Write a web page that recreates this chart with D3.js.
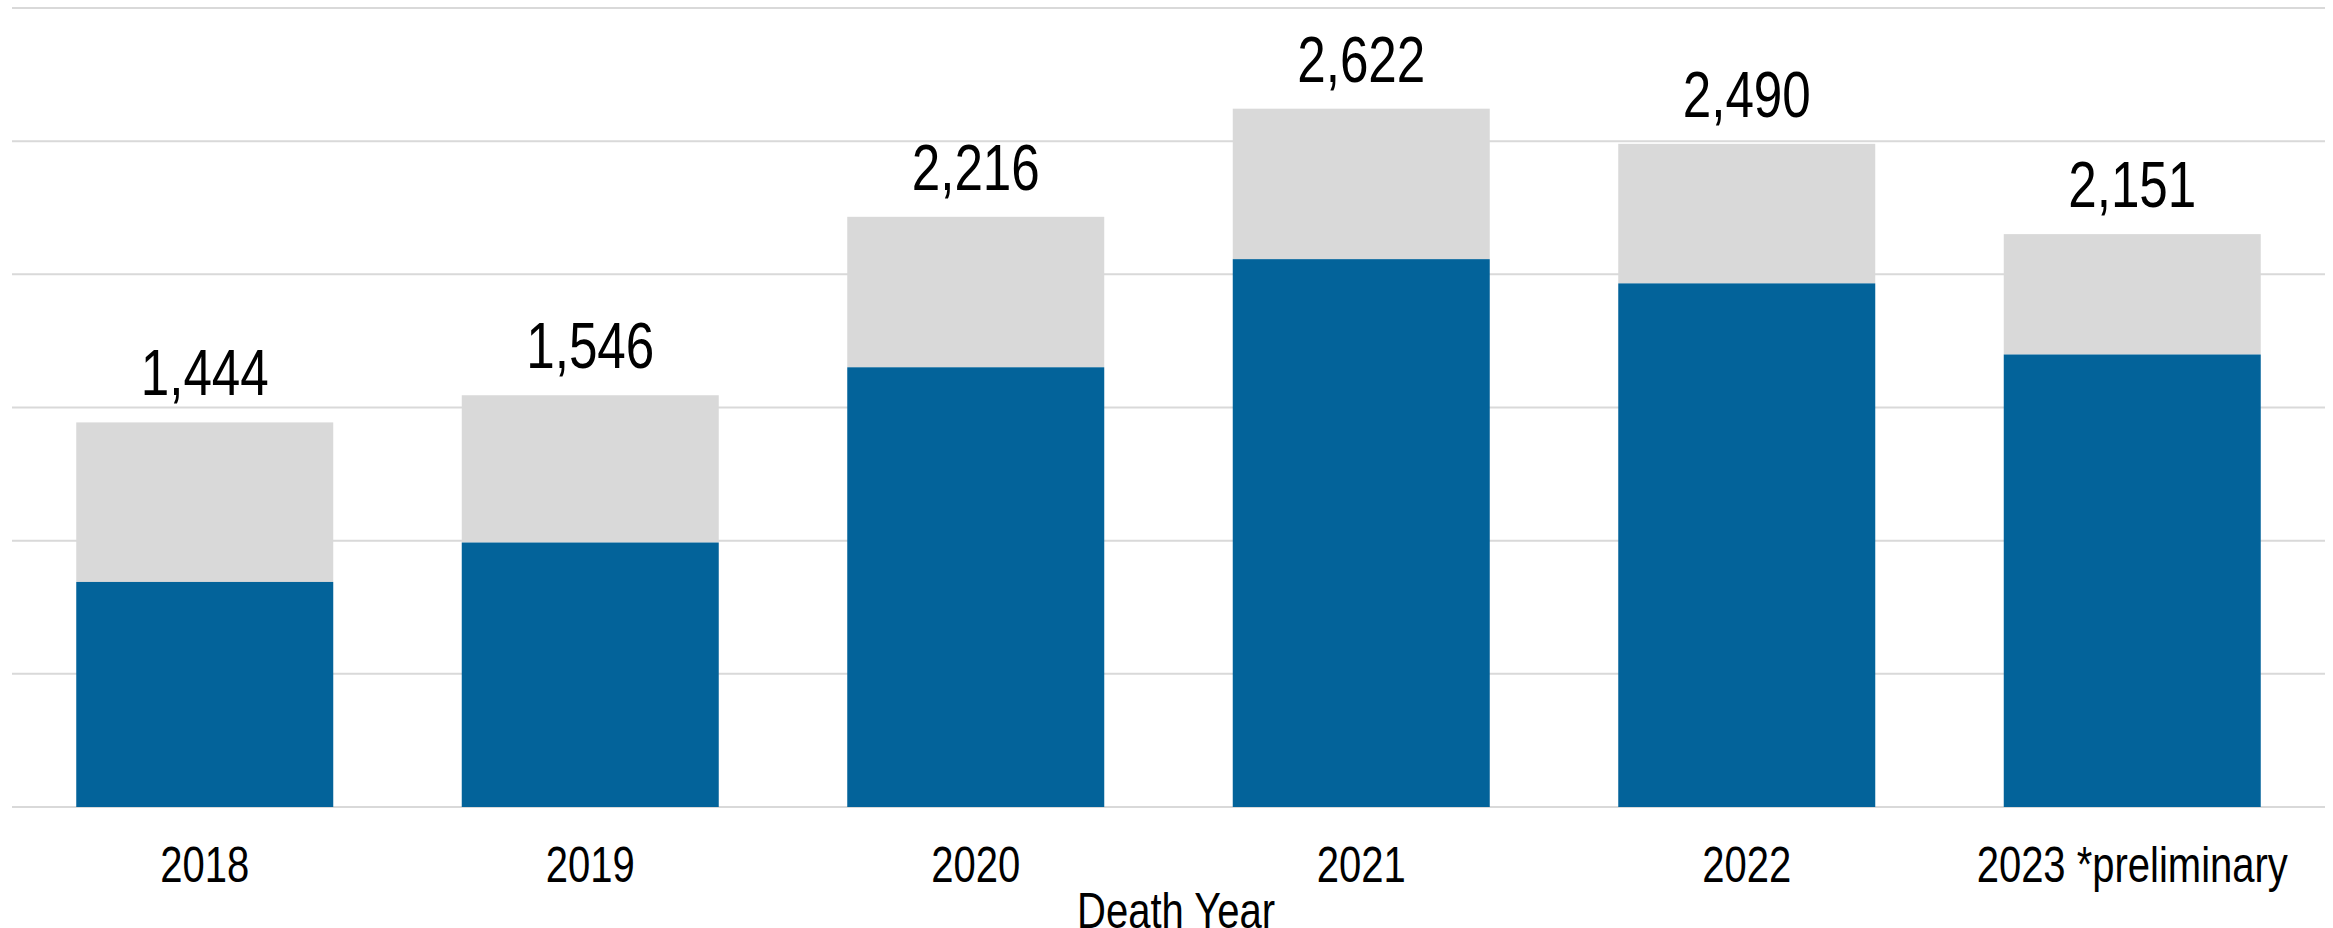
<!DOCTYPE html>
<html>
<head>
<meta charset="utf-8">
<script src="https://cdn.jsdelivr.net/npm/d3@7"></script>
<style>
  html, body { margin: 0; padding: 0; background: #ffffff; }
  svg { display: block; }
  text { font-family: "Liberation Sans", Arial, sans-serif; fill: #000; }
</style>
</head>
<body>
<svg id="chart" width="2333" height="928"></svg>
<script>
const years = ["2018", "2019", "2020", "2021", "2022", "2023 *preliminary"];
const blueValues = [845, 993, 1651, 2057, 1966, 1699];
const totals = [1444, 1546, 2216, 2622, 2490, 2151];
const gridTicks = [0, 500, 1000, 1500, 2000, 2500, 3000];
const xAxisTitle = "Death Year";

(function () {
const svg = d3.select("#chart");
const mLeft = 12, mRight = 2325, mBottom = 807, mTop = 8;
const narrow = 0.8;

const x = d3.scaleBand().domain(years).range([mLeft, mRight]).paddingInner(1/3).paddingOuter(1/6);
const y = d3.scaleLinear().domain([0, 3000]).range([mBottom, mTop]);

svg.append("g").selectAll("line").data(gridTicks).join("line")
  .attr("x1", mLeft).attr("x2", mRight)
  .attr("y1", d => y(d)).attr("y2", d => y(d))
  .attr("stroke", "#d9d9d9").attr("stroke-width", 2);

const data = years.map((yr, i) => ({ yr, blue: blueValues[i], total: totals[i] }));

svg.append("g").selectAll("rect").data(data).join("rect")
  .attr("x", d => x(d.yr)).attr("width", x.bandwidth())
  .attr("y", d => y(d.total)).attr("height", d => y(d.blue) - y(d.total))
  .attr("fill", "#d9d9d9");

svg.append("g").selectAll("rect").data(data).join("rect")
  .attr("x", d => x(d.yr)).attr("width", x.bandwidth())
  .attr("y", d => y(d.blue)).attr("height", d => y(0) - y(d.blue))
  .attr("fill", "#03639a");

svg.append("g").selectAll("text").data(data).join("text")
  .attr("transform", d => `translate(${x(d.yr) + x.bandwidth() / 2},${y(d.total) - 27}) scale(${narrow},1)`)
  .attr("text-anchor", "middle")
  .attr("font-size", 64)
  .text(d => d3.format(",")(d.total));

const xAxis = d3.axisBottom(x).tickSize(0).tickPadding(0);
const gx = svg.append("g").attr("transform", `translate(0,${mBottom})`).call(xAxis);
gx.select(".domain").remove();
gx.attr("font-family", null).attr("font-size", null);
gx.selectAll("text")
  .attr("dy", null)
  .attr("y", 0)
  .attr("transform", `translate(0,75) scale(${narrow},1)`)
  .attr("font-size", 50)
  .attr("fill", "#000");

svg.append("text")
  .attr("transform", `translate(1176,928) scale(${narrow},1)`)
  .attr("text-anchor", "middle")
  .attr("font-size", 50)
  .text(xAxisTitle);
})();
</script>
</body>
</html>
